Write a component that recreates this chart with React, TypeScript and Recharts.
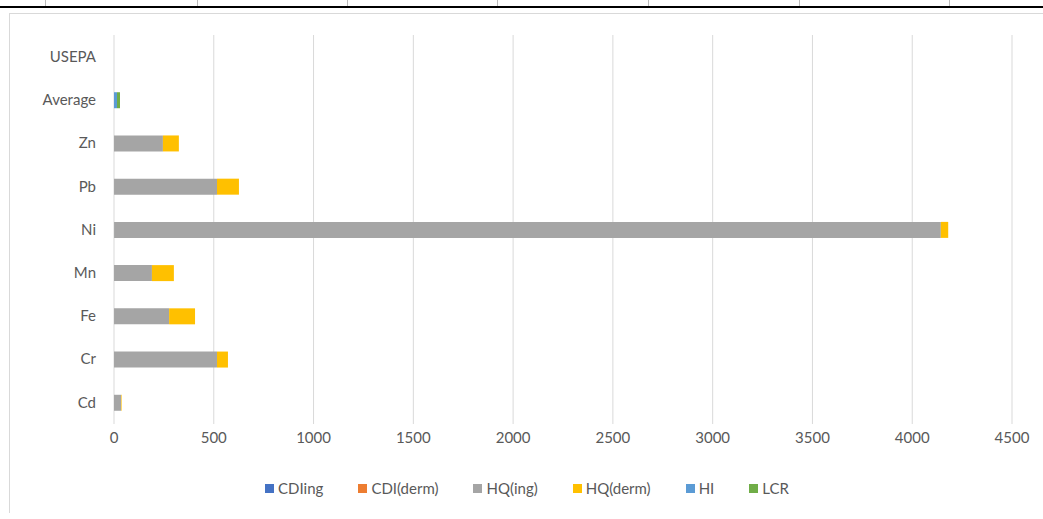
import React from 'react'
import { Bar, BarChart, CartesianGrid, Legend, XAxis, YAxis } from 'recharts'

const categories = ['USEPA', 'Average', 'Zn', 'Pb', 'Ni', 'Mn', 'Fe', 'Cr', 'Cd']
const cdiIng = [0, 0, 0.05, 0.1, 0.3, 0.05, 0.1, 0.05, 0.01]
const cdiDerm = [0, 0, 0.01, 0.02, 0.05, 0.01, 0.02, 0.01, 0]
const hqIng = [0, 0, 245, 516, 4143, 190, 276, 516, 35]
const hqDerm = [0, 0, 80, 110, 37, 110, 130, 55, 3]
const hi = [0, 15, 0, 0, 0, 0, 0, 0, 0]
const lcr = [0, 15, 0, 0, 0, 0, 0, 0, 0]
const xTicks = [0, 500, 1000, 1500, 2000, 2500, 3000, 3500, 4000, 4500]

const series = [
  { key: 'CDIing', color: '#4472C4' },
  { key: 'CDI(derm)', color: '#ED7D31' },
  { key: 'HQ(ing)', color: '#A5A5A5' },
  { key: 'HQ(derm)', color: '#FFC000' },
  { key: 'HI', color: '#5B9BD5' },
  { key: 'LCR', color: '#70AD47' },
]

const data = categories.map((name, i) => ({
  name,
  CDIing: cdiIng[i],
  'CDI(derm)': cdiDerm[i],
  'HQ(ing)': hqIng[i],
  'HQ(derm)': hqDerm[i],
  HI: hi[i],
  LCR: lcr[i],
}))

const font = 'Lato, "Open Sans", sans-serif'
const tableTicks = [45, 197, 347, 497, 648, 799, 949]

// legend drawn in series order (recharts sorts by name otherwise)
function ChartLegend() {
  return (
    <div
      style={{
        display: 'flex',
        justifyContent: 'center',
        gap: 35,
        paddingLeft: 32,
        fontFamily: font,
        fontSize: 15,
        color: '#595959',
      }}
    >
      {series.map((s) => (
        <div key={s.key} style={{ display: 'flex', alignItems: 'center', gap: 4 }}>
          <span style={{ width: 9, height: 9, background: s.color, display: 'inline-block' }} />
          <span>{s.key}</span>
        </div>
      ))}
    </div>
  )
}

export default function App() {
  return (
    <div style={{ position: 'absolute', left: 0, top: 0, width: 1043, height: 519, background: '#fff', fontFamily: font }}>
      <div style={{ position: 'absolute', left: 0, top: 0 }}>
        <BarChart
          width={1043}
          height={519}
          data={data}
          layout="vertical"
          margin={{ top: 35, right: 31, left: 10, bottom: 22 }}
          barSize={16}
        >
          <CartesianGrid horizontal={false} stroke="#d9d9d9" />
          <XAxis
            type="number"
            domain={[0, 4500]}
            ticks={xTicks}
            axisLine={false}
            tickLine={false}
            tickSize={0}
            tickMargin={8}
            height={55}
            tick={{ fill: '#595959', fontSize: 15, fontFamily: font }}
          />
          <YAxis
            type="category"
            dataKey="name"
            width={104}
            axisLine={false}
            tickLine={false}
            tickSize={0}
            tickMargin={18}
            tick={{ fill: '#595959', fontSize: 15, fontFamily: font }}
          />
          <Legend verticalAlign="bottom" content={() => <ChartLegend />} />
          {series.map((s) => (
            <Bar key={s.key} dataKey={s.key} stackId="a" fill={s.color} isAnimationActive={false} />
          ))}
        </BarChart>
      </div>
      {/* table border above the chart */}
      <div style={{ position: 'absolute', left: 0, top: 6, width: 1043, height: 2, background: '#000', zIndex: 2 }} />
      {tableTicks.map((x) => (
        <div key={x} style={{ position: 'absolute', left: x, top: 0, width: 1, height: 6, background: '#bbb', zIndex: 2 }} />
      ))}
      {/* chart frame */}
      <div
        style={{
          position: 'absolute',
          left: 9,
          top: 13,
          width: 1034,
          height: 499,
          borderTop: '1px solid #d9d9d9',
          borderLeft: '1px solid #d9d9d9',
          zIndex: 2,
          pointerEvents: 'none',
        }}
      />
    </div>
  )
}
